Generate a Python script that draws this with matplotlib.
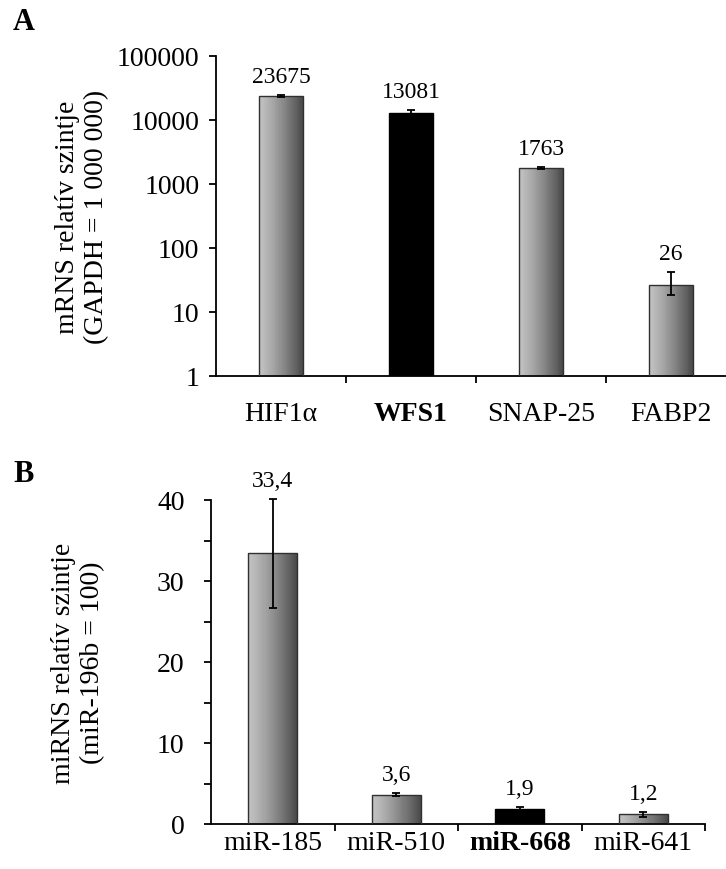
import numpy as np
import matplotlib
matplotlib.use("Agg")
import matplotlib.pyplot as plt
from matplotlib.ticker import FixedLocator, FuncFormatter, NullLocator, NullFormatter

plt.rcParams["font.family"] = ["Liberation Serif", "DejaVu Serif"]

# Panel A: mRNA levels (log scale)
genes = ["HIF1α", "WFS1", "SNAP-25", "FABP2"]
mrna_values = [23675, 13081, 1763, 26]
mrna_err_low = [700, 900, 60, 7.5]
mrna_err_high = [700, 1100, 60, 16]
mrna_highlight = [False, True, False, False]
mrna_yticks = [1, 10, 100, 1000, 10000, 100000]

# Panel B: miRNA levels (linear scale)
mirnas = ["miR-185", "miR-510", "miR-668", "miR-641"]
mirna_values = [33.4, 3.6, 1.9, 1.2]
mirna_err = [6.7, 0.2, 0.15, 0.3]
mirna_highlight = [False, False, True, False]
mirna_yticks = [0, 10, 20, 30, 40]
mirna_minor = [5, 15, 25, 35]

W, H = 726, 870
fig = plt.figure(figsize=(W / 100, H / 100), dpi=100)


def px_axes(left, right, top, bottom):
    return fig.add_axes([left / W, 1 - bottom / H, (right - left) / W, (bottom - top) / H])


def gradient_bar(ax, x, top, base, width, n=48):
    # horizontal light-to-dark shading built from thin strips
    edges = np.linspace(x - width / 2, x + width / 2, n + 1)
    t = np.linspace(0, 1, n)
    g = 0.76 - 0.47 * t ** 1.25
    for i in range(n):
        ax.bar(edges[i], top - base, bottom=base, width=edges[i + 1] - edges[i],
               align="edge", color=(g[i], g[i], g[i]), linewidth=0, zorder=2)
    ax.bar(x, top - base, bottom=base, width=width, facecolor="none",
           edgecolor="#303030", linewidth=1.0, zorder=3)


def draw_panel(ax, labels, values, err_lo, err_hi, highlight, base, width, fmt):
    xs = np.arange(len(labels))
    for x, v, hl in zip(xs, values, highlight):
        if hl:
            ax.bar(x, v - base, bottom=base, width=width, color="black",
                   edgecolor="black", linewidth=1.0, zorder=3)
        else:
            gradient_bar(ax, x, v, base, width)
    eb = ax.errorbar(xs, values, yerr=[err_lo, err_hi], fmt="none", ecolor="black",
                     elinewidth=1.3, capsize=3, capthick=1.3, zorder=4)
    for artist in eb.lines[1] + eb.lines[2]:
        artist.set_clip_on(False)
    for x, v, eh in zip(xs, values, err_hi):
        ax.annotate(fmt(v), xy=(x, v + eh), xytext=(0, 6), textcoords="offset points",
                    ha="center", va="bottom", fontsize=17, annotation_clip=False)
    ax.set_xlim(-0.5, len(labels) - 0.5)
    # boundary tick marks, labels centred under the bars
    ax.xaxis.set_major_locator(FixedLocator(xs + 0.5))
    ax.xaxis.set_major_formatter(NullFormatter())
    ax.xaxis.set_minor_locator(FixedLocator(xs))
    ax.xaxis.set_minor_formatter(FuncFormatter(lambda v, p: labels[int(round(v))]))
    for sp in ("top", "right"):
        ax.spines[sp].set_visible(False)
    for sp in ("left", "bottom"):
        ax.spines[sp].set_linewidth(1.3)
    ax.tick_params(axis="both", which="major", direction="out", length=5, width=1.3,
                   labelsize=20)
    ax.tick_params(axis="x", which="minor", length=0, labelsize=20)


# ---- Panel A ----
axA = px_axes(216, 736, 57, 377)
axA.set_yscale("log")
draw_panel(axA, genes, mrna_values, mrna_err_low, mrna_err_high, mrna_highlight,
           base=1, width=0.34, fmt=lambda v: f"{v:.0f}")
axA.set_ylim(1, 100000)
axA.yaxis.set_major_locator(FixedLocator(mrna_yticks))
axA.yaxis.set_major_formatter(FuncFormatter(lambda v, p: f"{v:.0f}"))
axA.yaxis.set_minor_locator(NullLocator())
axA.tick_params(axis="y", pad=7)
axA.tick_params(axis="x", which="minor", pad=18)
for lbl, hl in zip(axA.xaxis.get_minorticklabels(), mrna_highlight):
    lbl.set_fontweight("bold" if hl else "normal")

# ---- Panel B ----
axB = px_axes(211, 705, 501, 825)
draw_panel(axB, mirnas, mirna_values, mirna_err, mirna_err, mirna_highlight,
           base=0, width=0.4, fmt=lambda v: f"{v:.1f}".replace(".", ","))
axB.set_ylim(0, 40)
axB.yaxis.set_major_locator(FixedLocator(mirna_yticks))
axB.yaxis.set_major_formatter(FuncFormatter(lambda v, p: f"{v:.0f}"))
axB.yaxis.set_minor_locator(FixedLocator(mirna_minor))
axB.tick_params(axis="y", which="minor", direction="out", length=5, width=1.3)
axB.tick_params(axis="y", pad=14)
axB.tick_params(axis="x", which="minor", pad=4)
for lbl, hl in zip(axB.xaxis.get_minorticklabels(), mirna_highlight):
    lbl.set_fontweight("bold" if hl else "normal")

# axis titles and panel letters
fig.text(82 / W, 1 - 217 / H, "mRNS relatív szintje\n(GAPDH = 1 000 000)", rotation=90,
         ha="center", va="center", fontsize=20, multialignment="center", linespacing=1.2)
fig.text(78 / W, 1 - 663 / H, "miRNS relatív szintje\n(miR-196b = 100)", rotation=90,
         ha="center", va="center", fontsize=20, multialignment="center", linespacing=1.2)
fig.text(13 / W, 1 - 30 / H, "A", fontsize=22, fontweight="bold", ha="left", va="baseline")
fig.text(13 / W, 1 - 482 / H, "B", fontsize=22, fontweight="bold", ha="left", va="baseline")

fig.savefig("out.png", dpi=100, facecolor="white")
